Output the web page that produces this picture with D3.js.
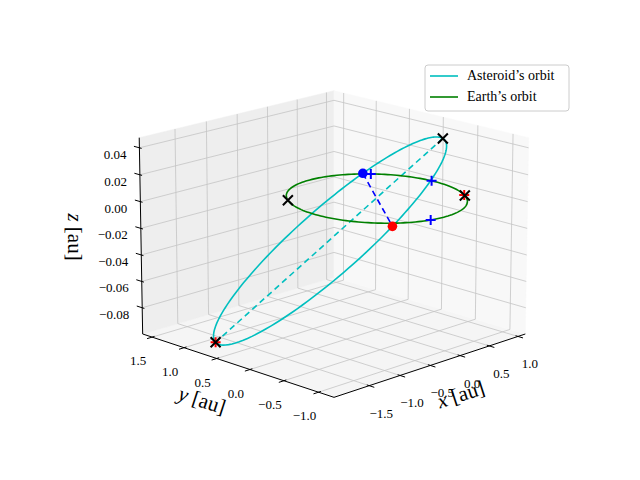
<!DOCTYPE html>
<html><head><meta charset="utf-8">
<script src="https://cdn.jsdelivr.net/npm/d3@7"></script>
<style>body{margin:0;background:#fff}svg text{font-family:"Liberation Serif","DejaVu Serif",serif}</style>
</head><body><svg id="c" width="640" height="480"></svg>
<script>
// ---- data ----
const xDomain = [-2.06, 1.13];
const yDomain = [-1.22, 1.65];
const zDomain = [-0.100, 0.0475];
const xTicks = [-1.5, -1.0, -0.5, 0.0, 0.5, 1.0];
const yTicks = [-1.0, -0.5, 0.0, 0.5, 1.0, 1.5];
const zTicks = [-0.08, -0.06, -0.04, -0.02, 0.00, 0.02, 0.04];
const earthRadius = [1.0];
// asteroid orbital elements: a [au], e, i [deg], Omega [deg], omega [deg]
const astA = [1.3], astE = [0.42], astI = [3.25], astNode = [230], astPeri = [96];
const astApsides = [0, 180];          // true anomalies marked with black x
const astRedPlus = [180];             // true anomaly marked with red +
const astBlueDot = [84];              // true anomaly of blue dot (descending node)
const astRedDot = [-96];              // true anomaly of red dot (ascending node)
const earthBlackX = [143.5, -36.5];   // Earth longitudes marked with black x
const earthRedPlus = [-35];
const earthBluePlus = [45, 3, -103];
const legendLabels = ["Asteroid\u2019s orbit", "Earth\u2019s orbit"];

// ---- projection ----
const rad = Math.PI/180;
const az = -135*rad, el = 16.5*rad, Dist = 12, S = 273;
const bxS = d3.scaleLinear().domain(xDomain).range([-0.5,0.5]);
const byS = d3.scaleLinear().domain(yDomain).range([-0.5,0.5]);
const bzS = d3.scaleLinear().domain(zDomain).range([-0.375,0.375]);
const V=[Math.cos(el)*Math.cos(az),Math.cos(el)*Math.sin(az),Math.sin(el)];
const R=[-Math.sin(az),Math.cos(az),0];
const U=[-Math.sin(el)*Math.cos(az),-Math.sin(el)*Math.sin(az),Math.cos(el)];
function raw(x,y,z){const p=[bxS(x),byS(y),bzS(z)];
  const d=p[0]*V[0]+p[1]*V[1]+p[2]*V[2]; const f=Dist/(Dist-d);
  return [(p[0]*R[0]+p[1]*R[1])*f, (p[0]*U[0]+p[1]*U[1]+p[2]*U[2])*f];}
const fb=raw(xDomain[0],yDomain[0],zDomain[0]), bt=raw(xDomain[1],yDomain[1],zDomain[1]);
const cx=334-S*(fb[0]+bt[0])/2, cy=244+S*(fb[1]+bt[1])/2;
function P(x,y,z){const r=raw(x,y,z);return [cx+S*r[0], cy-S*r[1]];}

const svg=d3.select("#c");
const line=d3.line();
const [x0,x1]=xDomain,[y0,y1]=yDomain,[z0,z1]=zDomain;

// panes
function poly(pts,fill){svg.append("path").attr("d",line(pts.map(p=>P(...p)))+"Z").attr("fill",fill).attr("stroke",fill).attr("stroke-width",0.5);}
poly([[x0,y0,z0],[x1,y0,z0],[x1,y1,z0],[x0,y1,z0]],"#f5f5f5");
poly([[x0,y1,z0],[x1,y1,z0],[x1,y1,z1],[x0,y1,z1]],"#eeeeee");
poly([[x1,y0,z0],[x1,y1,z0],[x1,y1,z1],[x1,y0,z1]],"#f8f8f8");

// grid
const grid=svg.append("g").attr("fill","none").attr("stroke","#c4c4c4").attr("stroke-width",0.8);
function gl(pts){grid.append("path").attr("d",line(pts.map(p=>P(...p))));}
xTicks.forEach(t=>{gl([[t,y0,z0],[t,y1,z0],[t,y1,z1]]);});
yTicks.forEach(t=>{gl([[x0,t,z0],[x1,t,z0],[x1,t,z1]]);});
zTicks.forEach(t=>{gl([[x0,y1,t],[x1,y1,t],[x1,y0,t]]);});

// axis lines + ticks
const ax=svg.append("g").attr("stroke","#000").attr("fill","none");
function al(pts,w){ax.append("path").attr("d",line(pts.map(p=>P(...p)))).attr("stroke-width",w);}
al([[x0,y0,z0],[x1,y0,z0]],1);
al([[x0,y0,z0],[x0,y1,z0]],1);
al([[x0,y1,z0],[x0,y1,z1]],1);
const yr=y1-y0,xr=x1-x0;
xTicks.forEach(t=>al([[t,y0+0.012*yr,z0],[t,y0-0.025*yr,z0]],1));
yTicks.forEach(t=>al([[x0+0.012*xr,t,z0],[x0-0.025*xr,t,z0]],1));
zTicks.forEach(t=>al([[x0,y1-0.012*yr,t],[x0,y1+0.03*yr,t]],1));

// tick labels
const fmt1=d=>d3.format(".1f")(d).replace("-","\u2212");
const fmt2=d=>d3.format(".2f")(d).replace("-","\u2212");
const tl=svg.append("g").attr("font-size",13).attr("fill","#000");
xTicks.forEach(t=>{const p=P(t,y0,z0);tl.append("text").attr("x",p[0]+12).attr("y",p[1]+32).attr("text-anchor","middle").text(fmt1(t));});
yTicks.forEach(t=>{const p=P(x0,t,z0);tl.append("text").attr("x",p[0]-14).attr("y",p[1]+28).attr("text-anchor","middle").text(fmt1(t));});
zTicks.forEach(t=>{const p=P(x0,y1,t);tl.append("text").attr("x",p[0]-13).attr("y",p[1]+11).attr("text-anchor","end").text(fmt2(t));});

// axis titles
function title(x,y,rot,label){const g=svg.append("text").attr("transform",`translate(${x},${y}) rotate(${rot})`).attr("text-anchor","middle").attr("font-size",21);
  g.append("tspan").attr("font-style","italic").text(label);g.append("tspan").text(" [au]");}
title(463,401,-18,"x");
title(200,407,18,"y");
title(68,237,90,"z");

// orbits
const astPos=nu=>{const a=astA[0],e=astE[0],i=astI[0]*rad,O=astNode[0]*rad,u=(astPeri[0]+nu)*rad;
  const r=a*(1-e*e)/(1+e*Math.cos(nu*rad));
  return [r*(Math.cos(O)*Math.cos(u)-Math.sin(O)*Math.sin(u)*Math.cos(i)),
          r*(Math.sin(O)*Math.cos(u)+Math.cos(O)*Math.sin(u)*Math.cos(i)),
          r*Math.sin(u)*Math.sin(i)];};
const earthPos=l=>[earthRadius[0]*Math.cos(l*rad),earthRadius[0]*Math.sin(l*rad),0];
const samp=d3.range(0,361,2);
svg.append("path").attr("d",line(samp.map(n=>P(...astPos(n))))).attr("fill","none").attr("stroke","#00bfbf").attr("stroke-width",1.6);
svg.append("path").attr("d",line(astApsides.map(n=>P(...astPos(n))))).attr("fill","none").attr("stroke","#00bfbf").attr("stroke-width",1.6).attr("stroke-dasharray","6,4");
svg.append("path").attr("d",line(samp.map(n=>P(...earthPos(n))))).attr("fill","none").attr("stroke","#008000").attr("stroke-width",1.6);
svg.append("path").attr("d",line([P(...astPos(astBlueDot[0])),P(...astPos(astRedDot[0]))])).attr("fill","none").attr("stroke","#0000ff").attr("stroke-width",1.6).attr("stroke-dasharray","6,4");

// markers
function plus(p,c,s){svg.append("path").attr("d",`M${p[0]-s},${p[1]}H${p[0]+s}M${p[0]},${p[1]-s}V${p[1]+s}`).attr("stroke",c).attr("stroke-width",2);}
function cross(p,c,s){svg.append("path").attr("d",`M${p[0]-s},${p[1]-s}L${p[0]+s},${p[1]+s}M${p[0]-s},${p[1]+s}L${p[0]+s},${p[1]-s}`).attr("stroke",c).attr("stroke-width",2);}
function dot(p,c){svg.append("circle").attr("cx",p[0]).attr("cy",p[1]).attr("r",4.8).attr("fill",c);}
astRedPlus.forEach(n=>plus(P(...astPos(n)),"#ff0000",5));
earthRedPlus.forEach(l=>plus(P(...earthPos(l)),"#ff0000",5));
astApsides.forEach(n=>cross(P(...astPos(n)),"#000",5));
earthBlackX.forEach(l=>cross(P(...earthPos(l)),"#000",5));
astBlueDot.forEach(n=>dot(P(...astPos(n)),"#0000ff"));
astRedDot.forEach(n=>dot(P(...astPos(n)),"#ff0000"));
earthBluePlus.forEach(l=>plus(P(...earthPos(l)),"#0000ff",5));

// legend
const lg=svg.append("g").attr("transform","translate(425,65)");
lg.append("rect").attr("width",144).attr("height",46).attr("rx",3).attr("fill","#fff").attr("fill-opacity",0.8).attr("stroke","#cccccc");
[["#00bfbf",legendLabels[0]],["#008000",legendLabels[1]]].forEach((d,k)=>{
  lg.append("line").attr("x1",5).attr("x2",33).attr("y1",11+k*21).attr("y2",11+k*21).attr("stroke",d[0]).attr("stroke-width",1.6);
  lg.append("text").attr("x",42).attr("y",15+k*21).attr("font-size",14).text(d[1]);});
</script></body></html>
